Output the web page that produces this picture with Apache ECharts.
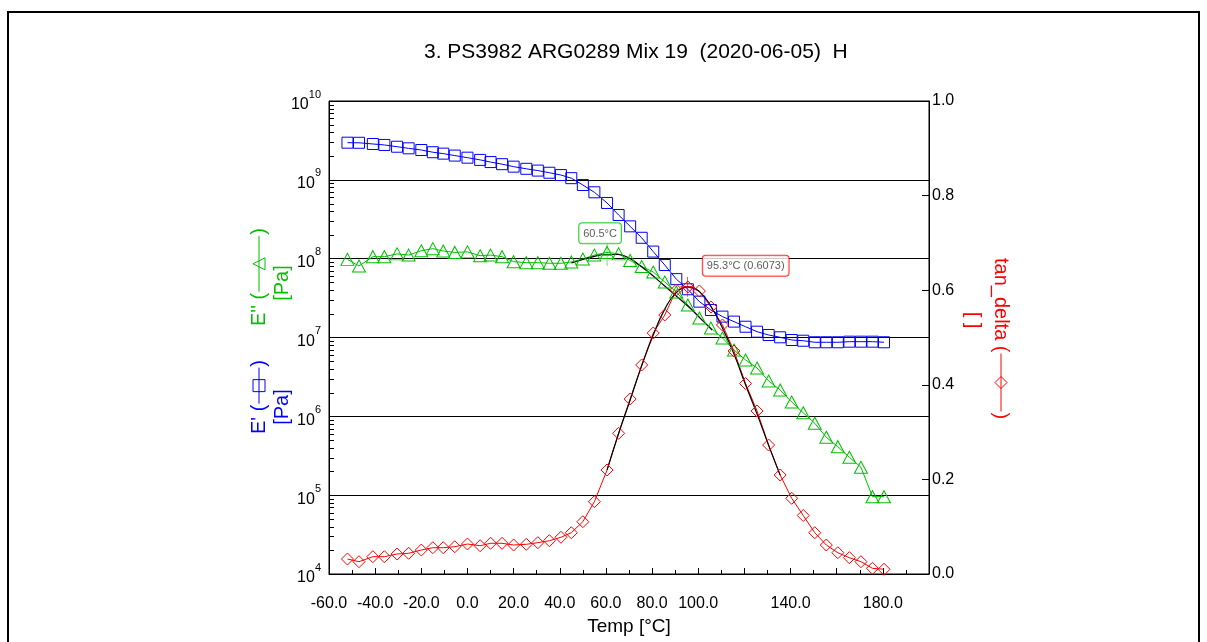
<!DOCTYPE html>
<html>
<head>
<meta charset="utf-8">
<script src="https://cdn.jsdelivr.net/npm/echarts@6/dist/echarts.min.js"></script>
<style>
html,body{margin:0;padding:0;background:#fff;}
#chart{width:1207px;height:642px;}
</style>
</head>
<body>
<div id="chart"></div>
<script>
// ---- data ----
const temps = [-52, -47, -41, -36, -30.5, -25.5, -20, -15, -10.5, -5.5,
  0, 5.5, 10, 15, 20, 25.5, 30.5, 35.5, 40.5, 45,
  50, 55, 60.5, 65.5, 70.5, 75.5, 80.5, 85.5, 90.5, 95.5,
  100.5, 105.5, 110.5, 115.5, 120.5, 125.5, 130.5, 135.5, 140.5, 145.5,
  150.5, 155.5, 160.5, 165.5, 170.5, 175.5, 180.5];
const ePrime = [2.96e9, 2.95e9, 2.85e9, 2.77e9, 2.63e9, 2.51e9, 2.39e9, 2.24e9, 2.15e9, 2.03e9,
  1.91e9, 1.79e9, 1.68e9, 1.58e9, 1.47e9, 1.38e9, 1.31e9, 1.23e9, 1.15e9, 1.05e9,
  8.6e8, 6.95e8, 5.09e8, 3.58e8, 2.57e8, 1.84e8, 1.23e8, 8.3e7, 5.5e7, 4.09e7,
  2.85e7, 2.23e7, 1.84e7, 1.59e7, 1.37e7, 1.185e7, 1.076e7, 1.006e7, 9.3e6, 9.1e6,
  8.7e6, 8.7e6, 8.7e6, 8.85e6, 8.85e6, 8.85e6, 8.7e6];
const eDouble = [9.8e7, 8.07e7, 1.06e8, 1.06e8, 1.15e8, 1.11e8, 1.26e8, 1.34e8, 1.25e8, 1.20e8,
  1.22e8, 1.09e8, 1.11e8, 1.06e8, 9.16e7, 8.9e7, 8.9e7, 8.74e7, 8.74e7, 9.08e7,
  9.9e7, 1.11e8, 1.20e8, 1.15e8, 9.48e7, 7.96e7, 6.78e7, 5.06e7, 3.78e7, 2.58e7,
  1.77e7, 1.32e7, 9.86e6, 6.95e6, 5.19e6, 4.10e6, 2.81e6, 2.16e6, 1.52e6, 1.11e6,
  8.16e5, 5.42e5, 4.12e5, 3.02e5, 2.26e5, 9.57e4, 9.57e4];
const tanDelta = [0.0317, 0.026, 0.0366, 0.0366, 0.0423, 0.0438, 0.0507, 0.0556, 0.0556, 0.0577,
  0.0634, 0.0598, 0.0649, 0.0649, 0.0613, 0.0628, 0.0662, 0.0704, 0.0776, 0.0873,
  0.1106, 0.1529, 0.2199, 0.2975, 0.370, 0.4419, 0.5095, 0.5476, 0.6004, 0.6068,
  0.5983, 0.5645, 0.5264, 0.4715, 0.4027, 0.3446, 0.2727, 0.2093, 0.160, 0.1237,
  0.0873, 0.0613, 0.045, 0.0345, 0.026, 0.012, 0.010];
// peak fit curves
const fitETemps = [45, 50, 55, 60, 65, 70, 75, 80, 85, 90, 95, 100, 106];
const fitEVals = [8.8e7, 9.77e7, 1.07e8, 1.13e8, 1.13e8, 1.02e8, 8.07e7, 6.2e7, 4.63e7, 3.46e7, 2.58e7, 1.87e7, 1.24e7];
const fitTanTemps = [60.5, 65.5, 70.5, 75.5, 80.5, 85.5, 90.5, 95.5, 100.5, 105.5, 110.5, 115.5, 120.5, 125.5, 130.5, 135.5];
const fitTanVals = [0.22, 0.297, 0.368, 0.44, 0.505, 0.56, 0.595, 0.607, 0.597, 0.566, 0.52, 0.465, 0.40, 0.338, 0.272, 0.209];
// peaks
const peakE = {t: 60.5, v: 1.11e8, label: '60.5°C'};
const peakTan = {t: 95.3, v: 0.6073, label: '95.3°C (0.6073)'};
// axes
const xMin = -60, xMax = 200, xInterval = 20;
const xLabelVals = [-60, -40, -20, 0, 20, 40, 60, 80, 100, 140, 180];
const yLogMin = 1e4, yLogMax = 1e10;
const minorLogVals = [];
for (let e = 4; e < 10; e++) for (let m = 2; m <= 9; m++) minorLogVals.push(m * Math.pow(10, e));

const TITLE = '3. PS3982 ARG0289 Mix 19  (2020-06-05)  H';
const BLUE = '#0000ff', GREEN = '#00c000', RED = '#ff0000';
const FONT = 'Liberation Sans, Arial, sans-serif';
const TITLE_FONT = '20px ' + FONT;

const mctx = document.createElement('canvas').getContext('2d');
function textW(s, font) { mctx.font = font; return mctx.measureText(s).width; }

// rotated axis title: main text, a line with symbol, closing paren, unit on the 2nd line
function axisTitle(x, y, rotation, main, color, lineLen, symbolShape, unit, unitX, unitY) {
  const w = textW(main, TITLE_FONT);
  const l0 = w + 1, l1 = w + 1 + lineLen, mid = (l0 + l1) / 2;
  let sym;
  if (symbolShape === 'rect') {
    sym = {type: 'rect', shape: {x: mid - 6, y: -6, width: 12, height: 12}, style: {fill: 'none', stroke: color, lineWidth: 1}};
  } else if (symbolShape === 'triangle') {
    sym = {type: 'polygon', shape: {points: [[mid - 6, 6], [mid + 6, 6], [mid, -6]]}, style: {fill: 'none', stroke: color, lineWidth: 1}};
  } else {
    sym = {type: 'polygon', shape: {points: [[mid - 6, 0], [mid, -6], [mid + 6, 0], [mid, 6]]}, style: {fill: 'none', stroke: color, lineWidth: 1}};
  }
  return {type: 'group', x: x, y: y, rotation: rotation, silent: true, children: [
    {type: 'text', x: 0, y: 0, style: {text: main, fill: color, font: TITLE_FONT, align: 'left', verticalAlign: 'middle'}},
    {type: 'line', shape: {x1: l0, y1: 0, x2: l1, y2: 0}, style: {stroke: color, lineWidth: 1}},
    sym,
    {type: 'text', x: l1 + 1, y: 0, style: {text: ')', fill: color, font: TITLE_FONT, align: 'left', verticalAlign: 'middle'}},
    {type: 'text', x: unitX, y: unitY, style: {text: unit, fill: color, font: TITLE_FONT, align: 'center', verticalAlign: 'middle'}}
  ]};
}

const chart = echarts.init(document.getElementById('chart'), null, {renderer: 'canvas'});

function hollow(c) { return {color: 'transparent', borderColor: c, borderWidth: 1}; }

const titleW = textW(TITLE, '21px ' + FONT);

const option = {
  backgroundColor: '#fff',
  animation: false,
  title: {
    text: TITLE,
    left: Math.round(631 - titleW / 2), top: 37,
    textStyle: {fontFamily: FONT, fontSize: 21, fontWeight: 'normal', color: '#000'}
  },
  grid: {left: 329, right: 278, top: 101, bottom: 68, show: true, borderColor: '#000', borderWidth: 1, backgroundColor: 'transparent'},
  xAxis: {
    type: 'value', min: xMin, max: xMax, interval: xInterval,
    name: 'Temp [°C]', nameLocation: 'middle', nameGap: 41,
    nameTextStyle: {fontFamily: FONT, fontSize: 19, color: '#000'},
    axisLine: {onZero: false, lineStyle: {color: '#000', width: 1}},
    axisTick: {inside: true, length: 6, lineStyle: {color: '#000'}},
    minorTick: {show: true, splitNumber: 2, length: 4, lineStyle: {color: '#000'}},
    splitLine: {show: false},
    axisLabel: {
      margin: 22, fontFamily: FONT, fontSize: 16, color: '#000',
      formatter: v => xLabelVals.indexOf(v) >= 0 ? v.toFixed(1) : ''
    }
  },
  yAxis: [
    {
      type: 'log', logBase: 10, min: yLogMin, max: yLogMax,
      axisLine: {show: true, onZero: false, lineStyle: {color: '#000', width: 1}},
      axisTick: {show: false},
      splitLine: {show: true, lineStyle: {color: '#000', width: 1}},
      axisLabel: {
        margin: 8, color: '#000',
        formatter: v => '{b|10}{s|' + Math.round(Math.log10(v)) + '}',
        rich: {
          b: {fontFamily: FONT, fontSize: 16, color: '#000', lineHeight: 24, verticalAlign: 'bottom'},
          s: {fontFamily: FONT, fontSize: 11, color: '#000', lineHeight: 24, verticalAlign: 'top'}
        }
      }
    },
    {
      type: 'value', min: 0, max: 1, interval: 0.2, position: 'right',
      axisLine: {show: true, onZero: false, lineStyle: {color: '#000', width: 1}},
      axisTick: {show: true, inside: true, length: 7, lineStyle: {color: '#000'}},
      splitLine: {show: false},
      axisLabel: {margin: 3, fontFamily: FONT, fontSize: 16, color: '#000', formatter: v => v.toFixed(1)}
    }
  ],
  series: [
    {
      type: 'custom', silent: true, xAxisIndex: 0, yAxisIndex: 0, z: 3,
      data: minorLogVals.map(v => [xMin, v]),
      renderItem: (params, api) => {
        const p = api.coord([api.value(0), api.value(1)]);
        const y = Math.round(p[1]) + 0.5;
        return {type: 'line', shape: {x1: p[0], y1: y, x2: p[0] + 5, y2: y}, style: {stroke: '#000', lineWidth: 1}};
      }
    },
    {
      name: "E'", type: 'line', yAxisIndex: 0, showAllSymbol: true,
      data: temps.map((t, i) => [t, ePrime[i]]),
      symbol: 'rect', symbolSize: 11,
      lineStyle: {color: BLUE, width: 1}, itemStyle: hollow(BLUE)
    },
    {
      name: "E''", type: 'line', yAxisIndex: 0, showAllSymbol: true,
      data: temps.map((t, i) => [t, eDouble[i]]),
      symbol: 'triangle', symbolSize: [13, 12],
      lineStyle: {color: GREEN, width: 1}, itemStyle: hollow(GREEN)
    },
    {
      name: 'tan_delta', type: 'line', yAxisIndex: 1, showAllSymbol: true,
      data: temps.map((t, i) => [t, tanDelta[i]]),
      symbol: 'diamond', symbolSize: 12,
      lineStyle: {color: RED, width: 1}, itemStyle: hollow(RED)
    },
    {
      type: 'line', yAxisIndex: 0, smooth: true, symbol: 'none', silent: true,
      data: fitETemps.map((t, i) => [t, fitEVals[i]]),
      lineStyle: {color: '#000', width: 1.2}
    },
    {
      type: 'line', yAxisIndex: 1, smooth: true, symbol: 'none', silent: true,
      data: fitTanTemps.map((t, i) => [t, fitTanVals[i]]),
      lineStyle: {color: '#000', width: 1.2}
    },
    {
      type: 'scatter', yAxisIndex: 0, silent: true, z: 5,
      data: [[peakE.t, peakE.v]],
      symbol: 'path://M5,0 L5,22 M0,11 L10,11', symbolSize: [9, 22],
      itemStyle: {color: 'transparent', borderColor: GREEN, borderWidth: 1},
      label: {
        show: true, position: 'top', distance: 0, offset: [-7, 0],
        formatter: () => peakE.label,
        fontFamily: FONT, fontSize: 11, color: '#333',
        backgroundColor: '#fff', borderColor: GREEN, borderWidth: 1, borderRadius: 3,
        padding: [5, 4, 4, 4]
      }
    },
    {
      type: 'scatter', yAxisIndex: 1, silent: true, z: 5,
      data: [[peakTan.t, peakTan.v]],
      symbol: 'path://M7,0 L7,20 M0,10 L14,10', symbolSize: [14, 20],
      itemStyle: {color: 'transparent', borderColor: RED, borderWidth: 1},
      label: {
        show: true, position: 'right', distance: 8, offset: [0, -21],
        formatter: () => peakTan.label,
        fontFamily: FONT, fontSize: 11, color: '#333',
        backgroundColor: '#fff', borderColor: RED, borderWidth: 1, borderRadius: 3,
        padding: [5, 4, 4, 4]
      }
    }
  ],
  graphic: [
    {type: 'rect', silent: true, shape: {x: 8, y: 12, width: 1191, height: 660},
     style: {fill: 'none', stroke: '#000', lineWidth: 2}},
    axisTitle(259, 434, Math.PI / 2, "E' (", BLUE, 36, 'rect', '[Pa]', 27, 23),
    axisTitle(259, 326, Math.PI / 2, "E'' (", GREEN, 56, 'triangle', '[Pa]', 43, 23),
    axisTitle(1001, 258, -Math.PI / 2, 'tan_delta (', RED, 58, 'diamond', '[ ]', 62, 28)
  ]
};
chart.setOption(option);
</script>
</body>
</html>
